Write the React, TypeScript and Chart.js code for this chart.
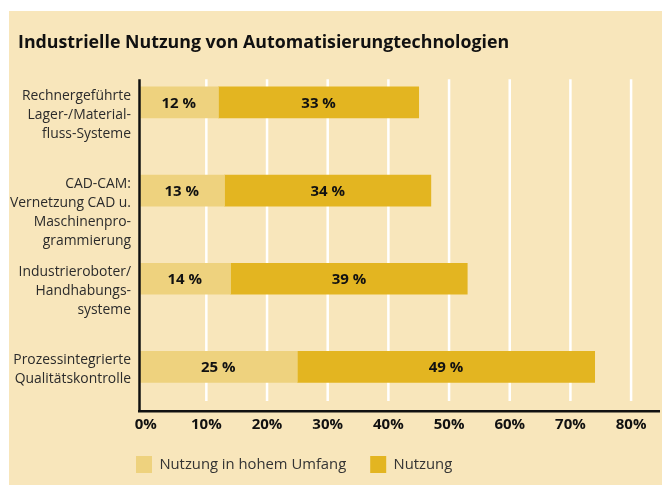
import React, { useEffect, useRef } from "react";
import { Chart, registerables } from "chart.js";

Chart.register(...registerables);

const TITLE = "Industrielle Nutzung von Automatisierungtechnologien";
const CATEGORIES: string[][] = [
  ["Rechnergeführte", "Lager-/Material-", "fluss-Systeme"],
  ["CAD-CAM:", "Vernetzung CAD u.", "Maschinenpro-", "grammierung"],
  ["Industrieroboter/", "Handhabungs-", "systeme"],
  ["Prozessintegrierte", "Qualitätskontrolle"],
];
const SERIES_NAMES = ["Nutzung in hohem Umfang", "Nutzung"];
const HIGH_USE = [12, 13, 14, 25];
const USE = [33, 34, 39, 49];
const X_TICKS = [0, 10, 20, 30, 40, 50, 60, 70, 80];

const BG = "#F8E6BB";
const LIGHT = "#EED27E";
const DARK = "#E3B521";
const FONT = "'Open Sans', 'Noto Sans', sans-serif";
const AXIS_MIN = -1.1;
const AXIS_MAX = 84.6;

const decor = {
  id: "decor",
  afterLayout(chart: any) {
    const lg = chart.legend;
    if (!lg) return;
    const w = lg.width;
    const h = lg.height;
    const pad = lg.options.labels.padding;
    const left = chart.chartArea.left - 3 - pad;
    const top = chart.chartArea.bottom + 45 - pad;
    lg.left = left;
    lg.right = left + w;
    lg.top = top;
    lg.bottom = top + h;
  },
  beforeDatasetsDraw(chart: any) {
    const { ctx, chartArea, scales } = chart;
    const x = scales.x;
    const top = chartArea.top + 21;
    const bottom = chartArea.bottom - 10;
    ctx.save();
    ctx.strokeStyle = "#ffffff";
    ctx.lineWidth = 2.5;
    X_TICKS.forEach((v) => {
      if (v <= 0) return;
      const px = x.getPixelForValue(v);
      ctx.beginPath();
      ctx.moveTo(px, top);
      ctx.lineTo(px, bottom);
      ctx.stroke();
    });
    ctx.restore();
  },
  afterDatasetsDraw(chart: any) {
    const { ctx, chartArea, scales } = chart;
    const y = scales.y;
    ctx.save();
    // y spine
    ctx.strokeStyle = "#111";
    ctx.lineWidth = 2.5;
    ctx.beginPath();
    ctx.moveTo(chartArea.left + 0.5, chartArea.top + 21);
    ctx.lineTo(chartArea.left + 0.5, chartArea.bottom);
    ctx.stroke();

    // value labels
    ctx.fillStyle = "#111";
    ctx.font = `bold 15px ${FONT}`;
    ctx.textAlign = "center";
    ctx.textBaseline = "middle";
    chart.data.datasets.forEach((ds: any, d: number) => {
      const meta = chart.getDatasetMeta(d);
      meta.data.forEach((el: any, i: number) => {
        const p = el.getProps(["x", "y", "base"], true);
        ctx.fillText(`${ds.data[i]} %`, (p.x + p.base) / 2, p.y + 1);
      });
    });

    // category labels (top-aligned with bars)
    ctx.fillStyle = "#2b2b2b";
    ctx.font = `13.9px ${FONT}`;
    ctx.textAlign = "right";
    CATEGORIES.forEach((lines, i) => {
      const cy = y.getPixelForValue(i);
      lines.forEach((line, j) => {
        ctx.fillText(line, chartArea.left - 8, cy - 6.5 + j * 19);
      });
    });
    ctx.restore();
  },
};

export default function App() {
  const ref = useRef<HTMLCanvasElement>(null);
  useEffect(() => {
    if (!ref.current) return;
    const chart = new Chart(ref.current, {
      type: "bar",
      data: {
        labels: CATEGORIES,
        datasets: [
          {
            label: SERIES_NAMES[0],
            data: HIGH_USE,
            backgroundColor: LIGHT,
            base: AXIS_MIN,
            barThickness: 31,
          } as any,
          {
            label: SERIES_NAMES[1],
            data: USE,
            backgroundColor: DARK,
            barThickness: 31,
          },
        ],
      },
      options: {
        indexAxis: "y",
        responsive: false,
        animation: false,
        events: [],
        layout: { padding: { left: 9, right: 3, top: 0, bottom: 0 } },
        scales: {
          x: {
            stacked: true,
            min: AXIS_MIN,
            max: AXIS_MAX,
            afterBuildTicks: (scale: any) => {
              scale.ticks = X_TICKS.map((v) => ({ value: v }));
            },
            grid: { display: false, drawTicks: false },
            border: { display: true, color: "#111", width: 2.5 },
            ticks: {
              padding: 5,
              color: "#111",
              font: { family: FONT, size: 15, weight: "bold" },
              callback: (v: any) => `${v}%`,
            },
          },
          y: {
            stacked: true,
            grid: { display: false, drawTicks: false },
            border: { display: false },
            ticks: { display: false },
            afterFit: (scale: any) => {
              scale.width = 121;
            },
          },
        },
        plugins: {
          title: {
            display: true,
            text: TITLE,
            align: "start",
            color: "#111",
            font: { family: FONT, size: 17.8, weight: "bold" },
            padding: { top: 21, bottom: 5 },
          },
          legend: {
            display: true,
            position: "bottom",
            align: "start",
            fullSize: false,
            maxHeight: 46,
            labels: {
              boxWidth: 16,
              boxHeight: 17,
              padding: 24,
              color: "#333",
              font: { family: FONT, size: 14.8 },
            },
          },
          tooltip: { enabled: false },
        },
      },
      plugins: [decor],
    });
    return () => chart.destroy();
  }, []);
  return (
    <div
      style={{
        position: "absolute",
        left: 9,
        top: 11,
        width: 653,
        height: 474,
        background: BG,
      }}
    >
      <canvas ref={ref} width={653} height={474} />
    </div>
  );
}
